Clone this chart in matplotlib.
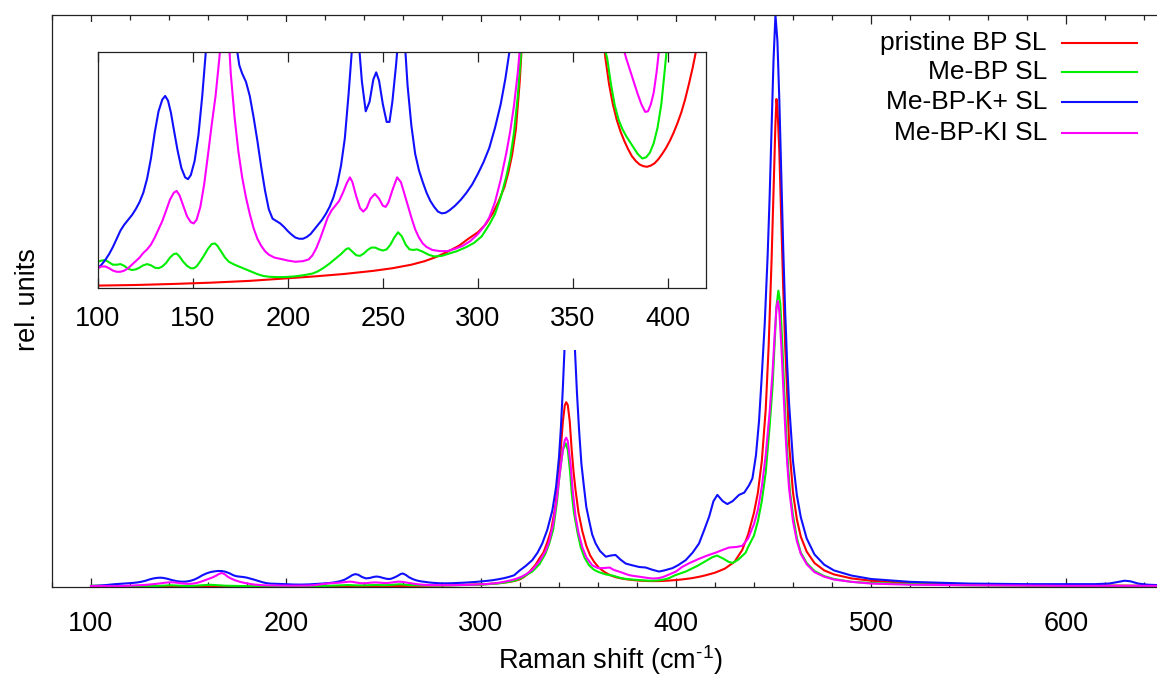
import matplotlib
matplotlib.use('Agg')
import matplotlib.pyplot as plt
from matplotlib.patches import Rectangle
from matplotlib.lines import Line2D
from matplotlib.ticker import MultipleLocator, NullLocator

plt.rcParams['font.family'] = ['Liberation Sans', 'DejaVu Sans']
plt.rcParams['mathtext.fontset'] = 'custom'
plt.rcParams['mathtext.rm'] = 'Liberation Sans'
plt.rcParams['mathtext.it'] = 'Liberation Sans:italic'
plt.rcParams['mathtext.bf'] = 'Liberation Sans:bold'

# ---------------- data (Raman shift in cm^-1, intensity in rel. units) ----------------
series_names = ['pristine BP SL', 'Me-BP SL', 'Me-BP-K+ SL', 'Me-BP-KI SL']
series_colors = ['#ff0000', '#00ee00', '#1010ff', '#ff00ff']

red_x = [100, 120, 140, 160, 180, 200, 215, 230, 245, 255,
         265, 272, 278, 284, 290, 295, 300, 304, 308, 311,
         314, 316, 318, 320, 322, 324, 326, 328, 330, 332,
         334, 336, 338, 340, 341, 342, 343, 343.7, 344.5, 345.5,
         346.5, 347.5, 348.5, 350, 352, 354, 356, 358, 360.4, 363,
         365, 367, 369, 371, 373, 375, 377, 379, 381, 383,
         385, 387, 389, 391, 393, 395, 397, 399, 401, 403,
         405, 407, 409, 411, 413, 415, 417, 420, 425, 430,
         434, 437, 440, 442, 444, 446, 447.5, 449, 450, 451,
         451.5, 452, 453, 454, 455, 456, 457, 458, 460, 462,
         464, 467, 471, 476, 481, 490, 500, 520, 550, 600,
         650]
red_y = [0.23, 0.28, 0.37, 0.48, 0.63, 0.85, 1.02, 1.22, 1.48, 1.7,
         2.0, 2.3, 2.65, 3.1, 3.6, 4.2, 4.75, 5.4, 6.4, 7.4,
         8.6, 9.8, 11.3, 13.5, 17.5, 23, 31, 39, 50, 60,
         78, 100, 138, 200, 245, 290, 318, 323, 318, 290,
         240, 200, 169, 130, 97, 72, 55, 44, 34, 27,
         22.8, 19.6, 17.3, 15.6, 14.3, 13.3, 12.5, 11.8, 11.2, 10.8,
         10.5, 10.35, 10.3, 10.4, 10.6, 10.95, 11.4, 11.9, 12.5, 13.2,
         14.0, 14.9, 16.0, 17.3, 18.7, 20.3, 22.2, 25, 32, 44,
         65, 92, 130, 165, 220, 310, 420, 570, 690, 810,
         853, 840, 760, 640, 520, 420, 340, 250, 165, 118,
         88, 62, 42, 29, 22, 15, 11, 7, 4, 3,
         2]

green_x = [100, 102, 104, 106, 108, 110, 112, 114, 116, 118,
           120, 122, 124, 126, 128, 130, 132, 134, 136, 138,
           140, 141.5, 143, 145, 147, 149, 150.5, 152, 154, 156,
           158, 160, 161.7, 163, 165, 167, 169, 172, 175, 178,
           181, 184, 187, 190, 194, 198, 203, 208, 213, 216,
           219, 222, 225, 228, 230.5, 232, 234, 236, 238, 240,
           242, 244, 246, 248, 250, 252, 254, 256, 258, 260,
           262, 264, 266, 268, 271, 274, 277, 281, 285, 289,
           294, 298, 302, 306, 309, 312, 315, 317, 319, 321,
           323, 326.3, 330, 333, 335, 337, 339, 340, 341, 342,
           343.4, 344.5, 345.6, 346.5, 347.7, 349.5, 351.1, 353, 355.4, 358,
           360.4, 364, 366, 368, 370, 372, 374, 376, 378, 380,
           382, 384, 386.5, 388.5, 390.5, 392.5, 394.5, 396.5, 398, 399.5,
           402, 405, 408, 411, 415, 418.6, 421, 424, 427, 429,
           432, 435.7, 437, 440, 442, 444, 446, 448, 449.5, 450.5,
           451.5, 452.5, 453.5, 454.5, 455.5, 456.5, 457.5, 458.5, 460, 462,
           464, 467, 471, 476, 481, 490, 500, 520, 550, 600,
           650]
green_y = [2.25, 2.35, 2.4, 2.2, 2.0, 2.0, 2.05, 1.9, 1.65, 1.55,
           1.6, 1.75, 1.95, 2.05, 1.95, 1.75, 1.7, 1.85, 2.15, 2.6,
           2.9, 2.95, 2.7, 2.25, 1.9, 1.7, 1.7, 1.85, 2.3, 2.8,
           3.35, 3.75, 3.8, 3.6, 3.1, 2.6, 2.25, 2.0, 1.8, 1.6,
           1.4, 1.2, 1.05, 0.98, 0.95, 0.95, 1.0, 1.1, 1.25, 1.45,
           1.75, 2.1, 2.5, 2.9, 3.3, 3.4, 3.1, 2.8, 2.75, 2.95,
           3.25, 3.45, 3.45, 3.3, 3.2, 3.3, 3.7, 4.3, 4.75, 4.4,
           3.7, 3.3, 3.25, 3.3, 3.1, 2.85, 2.7, 2.75, 2.95, 3.15,
           3.5, 3.85, 4.4, 5.4, 6.3, 7.7, 9.5, 11.0, 13.2, 16.3,
           20.5, 27, 40, 58, 76, 100, 150, 187, 215, 240,
           251, 240, 204, 165, 129, 95, 70, 52, 38, 30,
           26, 22, 20.8, 19.5, 17.3, 15.5, 14.3, 13.5, 12.9, 12.4,
           11.9, 11.4, 11.0, 11.1, 11.5, 12.3, 13.6, 15.6, 18, 20.5,
           23.5, 27, 32, 37, 45, 52, 55, 50, 44, 42,
           48, 60, 70, 90, 115, 150, 200, 280, 350, 420,
           490, 518, 495, 425, 345, 270, 210, 165, 125, 85,
           60, 42, 28, 19, 14, 9, 7, 5, 3, 2,
           2]

blue_x = [100, 102, 104, 106, 108, 110, 112, 114, 116, 118,
          120, 122, 124, 126, 128, 130, 132, 134,
          135.5, 137, 138.5, 140, 142, 144, 146, 147.5, 149, 151,
          153, 155, 157, 159, 161, 163, 165, 167, 169, 171,
          173, 174.5, 176, 178, 180, 182, 184, 186, 188, 190,
          192, 194, 196, 198, 200, 202, 204, 206, 208, 210,
          212, 214, 216, 218, 220, 222, 224, 226, 228, 230,
          232, 234, 235.5, 237, 239, 241, 243, 245, 246.5, 248,
          250, 252, 253.5, 255, 257, 259, 260, 261.5, 263, 265,
          267, 269, 271, 273, 275, 277, 279, 281, 283, 285,
          288, 291, 294, 297, 300, 303, 306, 309, 312, 314.5,
          317, 319.5, 323, 326.3, 329, 331.4, 334, 336.6, 338.5, 340,
          341, 342, 343, 344, 345, 345.5, 346, 347, 348.2, 349.2,
          350.3, 351.5, 352.8, 354, 355.4, 357, 358.8, 361, 364, 366.5,
          369, 371.5, 374.2, 377.5, 381.1, 384.5, 388, 391.3, 394, 398.2,
          401, 405, 408.5, 411.8, 414.5, 417, 419.2, 421.2, 424, 426.3,
          429, 432.3, 435, 437.5, 439.2, 441, 442.6, 444, 445.5, 447,
          448, 449, 450, 451, 452, 453, 454, 455, 456, 457,
          458, 460, 462, 464, 467, 471, 476, 481, 490, 500,
          520, 550, 580, 600, 615, 622, 627, 630, 633, 637,
          642, 650]
blue_y = [1.7, 2.0, 2.4, 2.9, 3.5, 4.2, 4.9, 5.4, 5.8, 6.2,
          6.7, 7.3, 8.1, 9.3, 11.0, 13.2, 15.0, 16.0,
          16.3, 15.9, 14.9, 13.5, 11.7, 10.2, 9.4, 9.25, 9.6, 10.8,
          13.0, 16.3, 20.3, 23.5, 25.8, 27.2, 28.0, 27.9, 26.6, 24.0,
          20.5, 18.9, 18.2, 17.5, 16.3, 14.5, 12.5, 10.3, 8.3, 6.7,
          5.9, 5.7, 5.5, 5.2, 4.85, 4.55, 4.3, 4.2, 4.2, 4.35,
          4.6, 5.0, 5.4, 5.8, 6.3, 6.9, 7.7, 8.8, 10.4, 12.7,
          16.5, 20.8, 22.5, 21.5, 17.5, 15.0, 15.8, 17.7, 18.3, 17.6,
          15.6, 14.1, 14.1, 15.8, 19.0, 23.0, 23.5, 21.0, 17.2, 13.8,
          11.4, 10.0, 9.0, 8.1, 7.4, 6.9, 6.5, 6.35, 6.4, 6.6,
          7.0, 7.5, 8.1, 8.8, 9.7, 10.7, 11.9, 13.6, 15.6, 17.8,
          20.5, 28, 37, 47, 60, 76, 100, 134, 175, 227,
          280, 350, 430, 530, 620, 640, 620, 530, 413, 340,
          274, 215, 175, 140, 117, 92, 76, 63, 53, 55,
          56, 48, 41, 38, 35, 34, 30, 27, 29, 33,
          38, 47, 60, 76, 100, 123, 150, 161, 150, 145,
          150, 161, 165, 178, 190, 230, 291, 370, 460, 580,
          680, 800, 920, 1000, 955, 850, 720, 590, 480, 390,
          320, 220, 160, 122, 85, 57, 39, 29, 20, 14,
          9, 6, 5, 5, 5, 6, 9, 11, 10, 6,
          4, 3]

magenta_x = [100, 102, 104, 106, 108, 110, 112, 114, 116, 118,
             120, 122, 124, 126, 128, 130, 132, 134, 136, 138,
             140,
             141.5, 143, 145, 147, 149, 150.5, 152, 154, 156, 158,
             160, 162, 164, 165.5, 167, 168.5, 170, 172, 174, 176,
             178, 180, 182, 184, 186, 188, 190, 193, 196, 200,
             204, 208, 211, 213, 215, 217, 219, 221, 223, 225,
             227, 229, 231, 232.7, 234, 236, 238, 239.7, 241.5, 243.5,
             245.8, 248, 250, 251.5, 253, 255, 257.5, 259.5, 261, 263,
             265, 267, 269, 271, 273, 276, 280, 284, 288, 292,
             296, 300, 303, 306, 309, 312, 315, 317, 319, 321,
             323, 326.3, 330, 333, 335, 337, 339, 340, 341, 342,
             343, 343.7, 344.5, 345.9, 347, 348.5, 350, 351.9, 354, 357,
             360, 362.2, 364, 366, 368, 370.8, 372.5, 374, 376, 378,
             380, 382, 384, 386, 388, 389.5, 391, 392.5, 394, 395.5,
             397, 400, 403.1, 407, 411.6, 416, 420.3, 424, 427.2, 431,
             434, 437, 440, 442, 444, 446, 448, 449.5, 450.5, 451.5,
             452.2, 453, 454, 455, 456, 457, 458, 460, 462, 464,
             467, 471, 476, 481, 490, 500, 520, 550, 600, 650]
magenta_y = [1.7, 1.85, 1.85, 1.7, 1.5, 1.4, 1.4, 1.5, 1.7, 2.0,
             2.3, 2.6, 3.0, 3.3, 3.7, 4.3, 5.0, 5.7, 6.6, 7.5,
             8.1,
             8.25, 7.9, 7.0, 6.1, 5.6, 5.5, 5.8, 6.9, 8.8, 11.3,
             13.9, 16.3, 19.5, 22.5, 24.5, 22.5, 18.2, 14.5, 11.6, 9.4,
             7.7, 6.3, 5.1, 4.2, 3.6, 3.15, 2.85, 2.6, 2.5, 2.35,
             2.25, 2.3, 2.45, 2.8, 3.4, 4.2, 5.1, 6.0, 6.6, 7.0,
             7.4, 8.1, 8.9, 9.4, 9.0, 7.8, 6.8, 6.5, 6.8, 7.6,
             8.0, 7.6, 7.0, 6.9, 7.3, 8.3, 9.4, 9.0, 8.2, 7.1,
             6.0, 5.0, 4.3, 3.8, 3.5, 3.25, 3.15, 3.15, 3.35, 3.6,
             4.0, 4.6, 5.2, 6.0, 7.3, 9.2, 11.5, 13.3, 15.5, 18.3,
             22, 30, 45, 62, 80, 110, 158, 187, 215, 240,
             257, 261, 255, 216, 170, 123, 95, 70, 52, 38,
             33, 33, 33.5, 34, 30, 27, 25, 23, 20.7, 19.5,
             18.5, 17.5, 16.5, 15.6, 14.95, 15.0, 15.6, 16.6, 18.3, 20.5,
             22.5, 27, 35, 42, 49, 55, 60, 65, 69, 70,
             72, 85, 110, 135, 175, 230, 305, 375, 435, 488,
             500, 482, 422, 348, 278, 218, 172, 115, 80, 58,
             40, 26, 18, 13, 9, 6, 4, 3, 2, 2]

series_x = [red_x, green_x, blue_x, magenta_x]
series_y = [red_y, green_y, blue_y, magenta_y]
for xs, ys in zip(series_x, series_y):
    assert len(xs) == len(ys), (len(xs), len(ys))

main_xticks = [100, 200, 300, 400, 500, 600]
inset_xticks = [100, 150, 200, 250, 300, 350, 400]

# ---------------- layout ----------------
W, H = 1157, 682
fig = plt.figure(figsize=(W / 100, H / 100), dpi=100)

def box(l, t, r, b):
    return [l / W, 1 - b / H, (r - l) / W, (b - t) / H]

FS = 19.5
LW = 1.5
spine_c = '#222222'

ax = fig.add_axes(box(52, 15, 1163.5, 587))
for xs, ys, c in zip(series_x, series_y, series_colors):
    ax.plot(xs, ys, color=c, lw=LW, solid_joinstyle='round')
ax.set_xlim(80, 650)
ax.set_ylim(0, 1000)
ax.set_xticks(main_xticks)
ax.xaxis.set_minor_locator(MultipleLocator(20))
ax.yaxis.set_major_locator(NullLocator())
ax.tick_params(axis='x', which='both', direction='in', top=True, bottom=True, colors=spine_c,
               labelcolor='black', labelsize=FS, pad=17.5)
ax.tick_params(axis='x', which='major', length=6.5, width=0.9)
ax.tick_params(axis='x', which='minor', length=3.6, width=0.9)
for s in ax.spines.values():
    s.set_color(spine_c)
    s.set_linewidth(0.9)

fig.text(610 / W, 1 - 660 / H, 'Raman shift (cm$^{\\mathregular{\u20101}}$)', ha='center', va='center',
         fontsize=FS)
fig.text(28 / W, 1 - 300 / H, 'rel. units', rotation=90, ha='center', va='center', fontsize=FS)

# legend, drawn gnuplot-style: right-aligned text, sample line to the right
leg_rows = [43, 72, 102, 133]
for name, c, yy in zip(series_names, series_colors, leg_rows):
    fig.text(1047 / W, 1 - yy / H, name, ha='right', va='center', fontsize=FS - 0.5)
    fig.add_artist(Line2D([1062 / W, 1137 / W], [1 - yy / H, 1 - yy / H], color=c, lw=LW,
                          transform=fig.transFigure))

# white area cleared for the inset (covers the clipped tall peak)
fig.add_artist(Rectangle((55 / W, 1 - 350 / H), (740 - 55) / W, (350 - 22) / H,
                         transform=fig.transFigure, facecolor='white', edgecolor='none', zorder=1))

ins = fig.add_axes(box(97.7, 52.3, 706, 288.3))
ins.set_zorder(2)
for xs, ys, c in zip(series_x, series_y, series_colors):
    ins.plot(xs, ys, color=c, lw=LW, solid_joinstyle='round')
ins.set_xlim(100, 420)
ins.set_ylim(0, 20)
ins.set_xticks(inset_xticks)
ins.yaxis.set_major_locator(NullLocator())
ins.tick_params(axis='x', which='major', direction='in', top=True, bottom=True, length=7.5, width=0.9,
                colors=spine_c, labelcolor='black', labelsize=FS, pad=13)
for s in ins.spines.values():
    s.set_color(spine_c)
    s.set_linewidth(0.9)

fig.savefig('out.png', dpi=100, facecolor='white')
